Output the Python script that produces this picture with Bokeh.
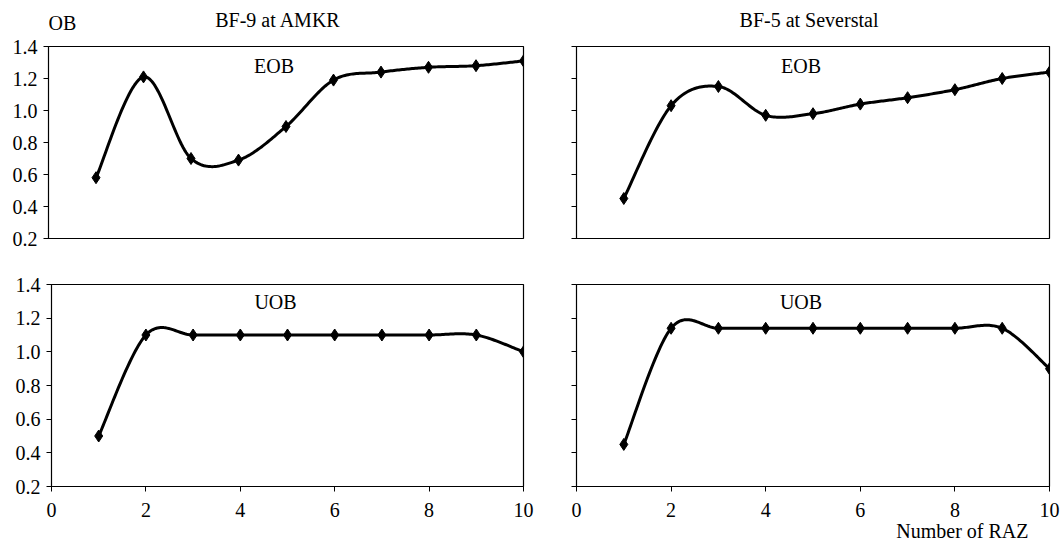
import numpy as np
from bokeh.plotting import figure
from bokeh.layouts import column, row
from bokeh.models import Label, FixedTicker, Title, PrintfTickFormatter, CustomJSTickFormatter
from bokeh.embed import file_html
from bokeh.resources import INLINE

raz = [1, 2, 3, 4, 5, 6, 7, 8, 9, 10]
eob_amkr = [0.58, 1.21, 0.70, 0.69, 0.90, 1.19, 1.24, 1.27, 1.28, 1.31]
uob_amkr = [0.50, 1.10, 1.10, 1.10, 1.10, 1.10, 1.10, 1.10, 1.10, 1.00]
eob_sev = [0.45, 1.03, 1.15, 0.97, 0.98, 1.04, 1.08, 1.13, 1.20, 1.24]
uob_sev = [0.45, 1.14, 1.14, 1.14, 1.14, 1.14, 1.14, 1.14, 1.14, 0.90]
x_ticks = [0, 2, 4, 6, 8, 10]
y_ticks = [0.2, 0.4, 0.6, 0.8, 1.0, 1.2, 1.4]

FONT = "Liberation Serif"
FS = "20px"
TXT = dict(text_font=FONT, text_font_size=FS, text_color="black")

HEAD_H = 34


def smooth(xs, ys, n=30):
    """Excel-style smoothed line (Catmull-Rom as cubic Bezier)."""
    P = np.column_stack([xs, ys]).astype(float)
    m = len(P)
    out = []
    for i in range(m - 1):
        p0 = P[max(i - 1, 0)]
        p1 = P[i]
        p2 = P[i + 1]
        p3 = P[min(i + 2, m - 1)]
        c1 = p1 + (p2 - p0) / 6.0
        c2 = p2 - (p3 - p1) / 6.0
        t = np.linspace(0, 1, n)[:, None]
        seg = ((1 - t) ** 3) * p1 + 3 * ((1 - t) ** 2) * t * c1 + 3 * (1 - t) * t ** 2 * c2 + t ** 3 * p2
        if i > 0:
            seg = seg[1:]
        out.append(seg)
    arr = np.vstack(out)
    return arr[:, 0], arr[:, 1]


def style_axis(ax, standoff):
    ax.minor_tick_line_color = None
    ax.major_tick_out = 5
    ax.major_tick_in = 0
    ax.axis_line_color = "black"
    ax.major_tick_line_color = "black"
    ax.major_label_text_font = FONT
    ax.major_label_text_font_size = FS
    ax.major_label_text_color = "black"
    ax.major_label_standoff = standoff


def header(width, bl, br):
    h = figure(width=width, height=HEAD_H, x_range=(0, 10), y_range=(HEAD_H, 0),
               output_backend="svg", toolbar_location=None,
               x_axis_location=None, y_axis_location=None,
               min_border_left=bl, min_border_right=br, min_border_top=0, min_border_bottom=0)
    h.grid.visible = False
    h.outline_line_color = None
    h.background_fill_color = "white"
    h.border_fill_color = "white"
    return h


def make(vals, name, top, left, name_off):
    kw = dict(
        width=546 if left else 516,
        height=225 if top else 282,
        x_range=(0, 10), y_range=(0.2, 1.4),
        output_backend="svg", toolbar_location=None,
        min_border_left=(48 if top else 51) if left else 30,
        min_border_right=23 if left else 13,
        min_border_top=12 if top else 25,
        min_border_bottom=21 if top else 55,
    )
    if top:
        kw["x_axis_location"] = None
    p = figure(**kw)
    p.grid.visible = False
    p.outline_line_color = "black"
    p.outline_line_width = 1.2
    p.background_fill_color = "white"
    p.border_fill_color = "white"

    for ax in p.yaxis:
        ax.ticker = FixedTicker(ticks=y_ticks)
        style_axis(ax, 6)
        if left:
            ax.formatter = PrintfTickFormatter(format="%.1f")
        else:
            ax.formatter = CustomJSTickFormatter(code="return ''")
    if not top:
        for ax in p.xaxis:
            ax.ticker = FixedTicker(ticks=x_ticks)
            style_axis(ax, 11)

    sx, sy = smooth(raz, vals)
    p.line(sx, sy, line_color="black", line_width=3, line_join="round")
    p.scatter(raz, vals, marker="diamond", size=12, fill_color="black", line_color="black")

    p.add_layout(Label(x=5, y=1.4, x_offset=-12, y_offset=name_off, text=name, text_align="center",
                       text_baseline="middle", **TXT))
    return p


h1 = header(546, 48, 23)
h2 = header(516, 30, 13)
h1.add_layout(Label(x=5, y=19, x_offset=-8, text="BF-9 at AMKR", text_align="center",
                    text_baseline="middle", **TXT))
h1.add_layout(Label(x=0, y=22, text="OB", text_align="left", text_baseline="middle", **TXT))
h2.add_layout(Label(x=5, y=19, x_offset=-4, text="BF-5 at Severstal", text_align="center",
                    text_baseline="middle", **TXT))

p1 = make(eob_amkr, "EOB", True, True, -19)
p2 = make(eob_sev, "EOB", True, False, -19)
p3 = make(uob_amkr, "UOB", False, True, -17)
p4 = make(uob_sev, "UOB", False, False, -17)

try:
    raz_title = Title(text="Number of RAZ", align="right", standoff=-4, offset=21,
                      text_font_style="normal", **TXT)
except Exception:
    raz_title = Title(text="Number of RAZ", align="right", standoff=0, offset=21,
                      text_font_style="normal", **TXT)
p4.add_layout(raz_title, "below")

layout = column(row(h1, h2), row(p1, p2), row(p3, p4))
open("out.html", "w").write(file_html(layout, INLINE))
